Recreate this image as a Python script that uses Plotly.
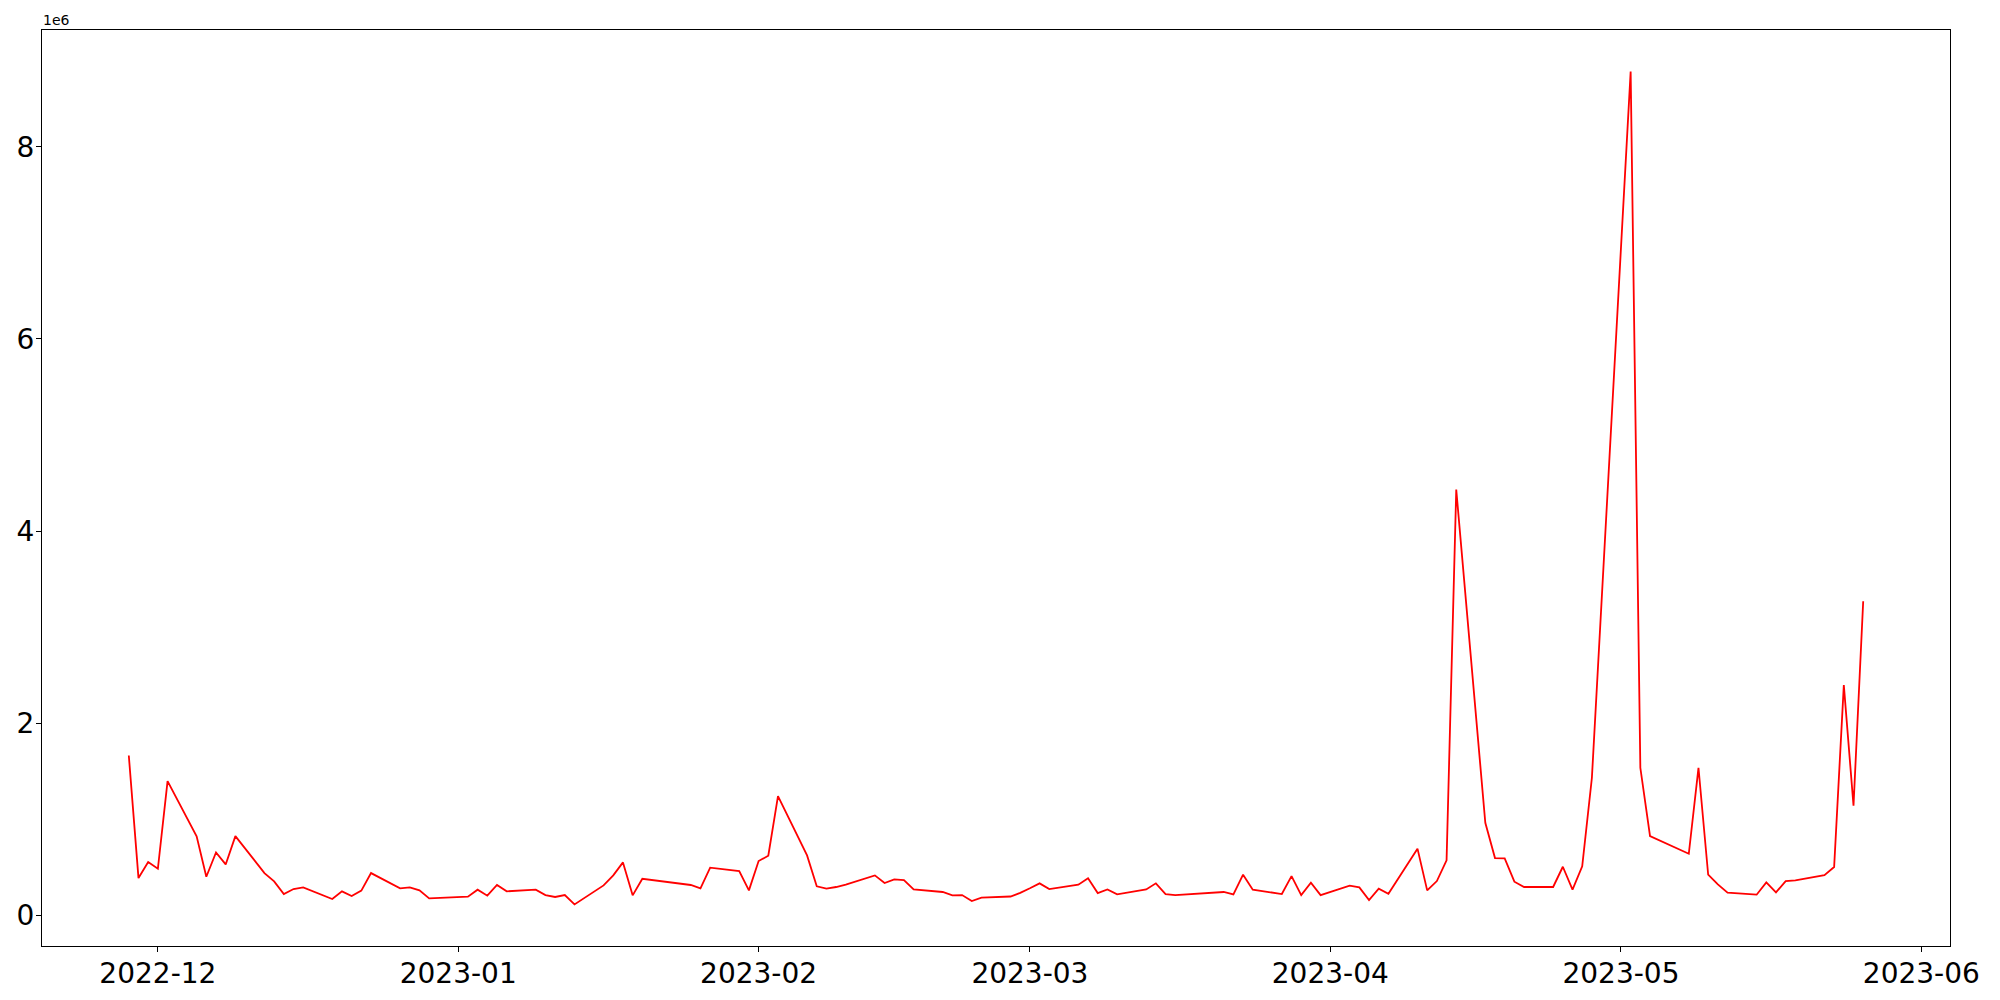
import plotly.graph_objects as go

dates = [
    "2022-11-28", "2022-11-29", "2022-11-30", "2022-12-01", "2022-12-02",
    "2022-12-05", "2022-12-06", "2022-12-07", "2022-12-08", "2022-12-09",
    "2022-12-12", "2022-12-13", "2022-12-14", "2022-12-15", "2022-12-16",
    "2022-12-19", "2022-12-20", "2022-12-21", "2022-12-22", "2022-12-23",
    "2022-12-26", "2022-12-27", "2022-12-28", "2022-12-29",
    "2023-01-02", "2023-01-03", "2023-01-04", "2023-01-05", "2023-01-06",
    "2023-01-09", "2023-01-10", "2023-01-11", "2023-01-12", "2023-01-13",
    "2023-01-16", "2023-01-17", "2023-01-18", "2023-01-19", "2023-01-20",
    "2023-01-25", "2023-01-26", "2023-01-27",
    "2023-01-30", "2023-01-31", "2023-02-01", "2023-02-02", "2023-02-03",
    "2023-02-06", "2023-02-07", "2023-02-08", "2023-02-09", "2023-02-10",
    "2023-02-13", "2023-02-14", "2023-02-15", "2023-02-16", "2023-02-17",
    "2023-02-20", "2023-02-21", "2023-02-22", "2023-02-23", "2023-02-24",
    "2023-02-27", "2023-02-28", "2023-03-01", "2023-03-02", "2023-03-03",
    "2023-03-06", "2023-03-07", "2023-03-08", "2023-03-09", "2023-03-10",
    "2023-03-13", "2023-03-14", "2023-03-15", "2023-03-16",
    "2023-03-21", "2023-03-22", "2023-03-23", "2023-03-24",
    "2023-03-27", "2023-03-28", "2023-03-29", "2023-03-30", "2023-03-31",
    "2023-04-03", "2023-04-04", "2023-04-05", "2023-04-06", "2023-04-07",
    "2023-04-10", "2023-04-11", "2023-04-12", "2023-04-13", "2023-04-14",
    "2023-04-17", "2023-04-18", "2023-04-19", "2023-04-20", "2023-04-21",
    "2023-04-24", "2023-04-25", "2023-04-26", "2023-04-27", "2023-04-28",
    "2023-05-02", "2023-05-03", "2023-05-04",
    "2023-05-08", "2023-05-09", "2023-05-10", "2023-05-11", "2023-05-12",
    "2023-05-15", "2023-05-16", "2023-05-17", "2023-05-18", "2023-05-19",
    "2023-05-22", "2023-05-23", "2023-05-24", "2023-05-25", "2023-05-26",
]

values_millions = [
    1.664, 0.388, 0.555, 0.485, 1.397,
    0.822, 0.402, 0.655, 0.530, 0.825,
    0.440, 0.354, 0.222, 0.274, 0.291,
    0.170, 0.250, 0.201, 0.257, 0.440,
    0.281, 0.291, 0.260, 0.177,
    0.194, 0.267, 0.205, 0.316, 0.250,
    0.267, 0.211, 0.191, 0.211, 0.114,
    0.312, 0.416, 0.551, 0.208, 0.381,
    0.316, 0.281, 0.496,
    0.461, 0.260, 0.565, 0.621, 1.241,
    0.624, 0.302, 0.278, 0.295, 0.319,
    0.416, 0.336, 0.374, 0.367, 0.270,
    0.243, 0.208, 0.211, 0.149, 0.184,
    0.196, 0.234, 0.282, 0.333, 0.274,
    0.319, 0.385, 0.232, 0.270, 0.218,
    0.270, 0.333, 0.222, 0.211,
    0.243, 0.218, 0.423, 0.267,
    0.222, 0.409, 0.211, 0.340, 0.211,
    0.309, 0.291, 0.160, 0.278, 0.225,
    0.694, 0.260, 0.357, 0.572, 4.431,
    0.964, 0.596, 0.593, 0.350, 0.295,
    0.295, 0.506, 0.267, 0.510, 1.432,
    8.782, 1.536, 0.825,
    0.641, 1.536, 0.423, 0.322, 0.236,
    0.215, 0.343, 0.239, 0.357, 0.364,
    0.419, 0.503, 2.396, 1.141, 3.269,
]

y_tickvals = [0, 2, 4, 6, 8]
y_ticktext = ["0", "2", "4", "6", "8"]
x_tick0 = "2022-12-01"
x_range = ["2022-11-19 01:00", "2023-06-03 23:00"]
y_range = [-0.319, 9.215]

FONT = "DejaVu Sans, Liberation Sans, sans-serif"

fig = go.Figure()
fig.add_trace(go.Scatter(
    x=dates, y=values_millions, mode="lines",
    line=dict(color="#ff0000", width=1.8),
    showlegend=False, hoverinfo="x+y",
))

# page body adds an 8px offset; figure sized to fit the 2000x1000 window
fig.update_layout(
    width=1984, height=984,
    margin=dict(l=34, r=42, t=22, b=46, pad=0),
    paper_bgcolor="white", plot_bgcolor="white",
    font=dict(family=FONT, color="black"),
    xaxis=dict(
        type="date", range=x_range, automargin=False,
        tick0=x_tick0, dtick="M1", tickformat="%Y-%m",
        ticks="outside", ticklen=5, tickwidth=1, tickcolor="black",
        ticklabelstandoff=-3,
        showline=True, mirror=True, linecolor="black", linewidth=1,
        showgrid=False, zeroline=False,
        tickfont=dict(size=28, family=FONT, color="black"),
    ),
    yaxis=dict(
        range=y_range, tickvals=y_tickvals, ticktext=y_ticktext,
        automargin=False,
        ticks="outside", ticklen=5, tickwidth=1, tickcolor="black",
        ticklabelstandoff=-4,
        showline=True, mirror=True, linecolor="black", linewidth=1,
        showgrid=False, zeroline=False,
        tickfont=dict(size=28, family=FONT, color="black"),
    ),
    annotations=[dict(
        text="1e6", xref="paper", yref="paper", x=0, y=1,
        xanchor="left", yanchor="bottom", showarrow=False,
        xshift=-1, yshift=0,
        font=dict(size=14, family=FONT, color="black"),
    )],
)

fig.write_html("out.html")
